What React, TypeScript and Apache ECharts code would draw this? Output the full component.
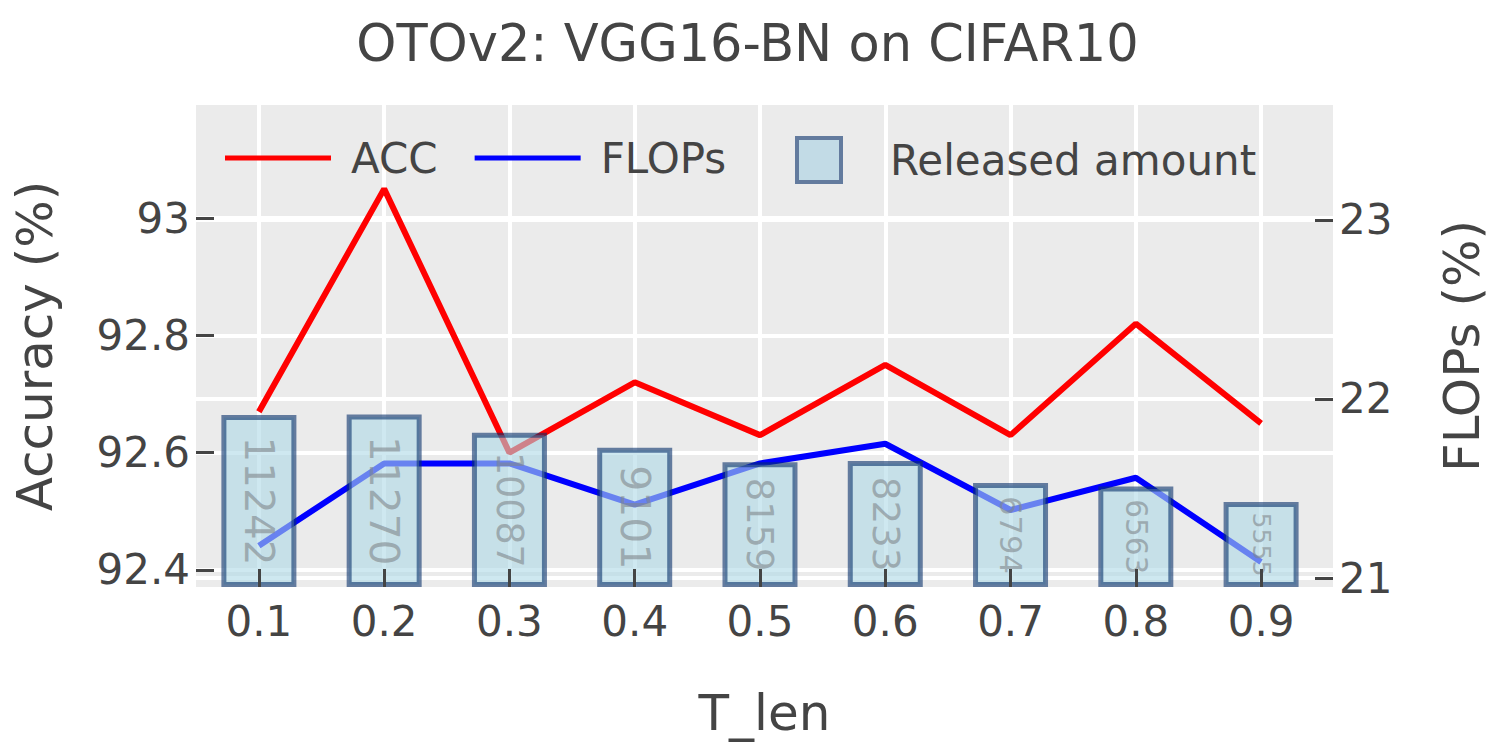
import React, { useEffect, useRef } from 'react';
import * as echarts from 'echarts';

const categories = ['0.1', '0.2', '0.3', '0.4', '0.5', '0.6', '0.7', '0.8', '0.9'];
const accValues = [92.67, 93.05, 92.6, 92.72, 92.63, 92.75, 92.63, 92.82, 92.65];
const flopsValues = [21.18, 21.64, 21.64, 21.41, 21.64, 21.75, 21.38, 21.56, 21.09];
const releasedValues = [11242, 11270, 10087, 9101, 8159, 8233, 6794, 6563, 5555];
const accTicks = [92.4, 92.6, 92.8, 93];
const flopsTicks = [21, 22, 23];

const FONT = '"DejaVu Sans", Verdana, sans-serif';
const TXT = '#444';

export default function App() {
  const ref = useRef<HTMLDivElement>(null);
  useEffect(() => {
    const chart = echarts.init(ref.current!, null, { renderer: 'svg' });
    const xs = categories.map(Number);
    const gridTop = 105;
    const gridH = 482;
    const barMax = 31500;
    const fit = (v: number) => {
      const px = (v / barMax) * gridH;
      const digits = String(v).length;
      return Math.min(41, (px * 0.75) / (digits * 0.636));
    };
    const tickStyle = { color: TXT, width: 3 };
    const split = { show: true, lineStyle: { color: '#ffffff', width: 4 } };
    const option: any = {
      animation: false,
      backgroundColor: '#ffffff',
      textStyle: { fontFamily: FONT },
      title: {
        text: 'OTOv2: VGG16-BN on CIFAR10',
        left: 'center',
        top: 8,
        textStyle: { fontSize: 51, fontWeight: 'normal', color: TXT, fontFamily: FONT, lineHeight: 60 },
      },
      legend: [
        {
          data: [
            { name: 'ACC', icon: 'rect' },
            { name: 'FLOPs', icon: 'rect' },
          ],
          left: 225,
          top: 134,
          padding: 0,
          itemWidth: 106,
          itemHeight: 5,
          itemGap: 37,
          textStyle: { fontSize: 42, color: TXT, fontFamily: FONT, lineHeight: 48, padding: [0, 0, 0, 15] },
        },
        {
          data: ['Released amount'],
          left: 795,
          top: 136,
          padding: 0,
          itemWidth: 44,
          itemHeight: 44,
          icon: 'rect',
          itemStyle: { color: '#c2dbe6', borderColor: '#637b9e', borderWidth: 4, opacity: 1 },
          textStyle: { fontSize: 42, color: TXT, fontFamily: FONT, lineHeight: 44, padding: [0, 0, 0, 44] },
        },
      ],
      grid: {
        left: 196,
        top: gridTop,
        width: 1138,
        height: gridH,
        show: true,
        backgroundColor: '#ebebeb',
        borderWidth: 0,
      },
      xAxis: [
        {
          type: 'value',
          position: 'bottom',
          min: 0.0498,
          max: 0.9574,
          axisLine: { show: false },
          axisTick: { show: false, customValues: xs },
          axisLabel: {
            customValues: xs,
            margin: 12,
            fontSize: 42,
            color: TXT,
            fontFamily: FONT,
            lineHeight: 45,
            formatter: (v: number) => String(v),
          },
          splitLine: split,
          name: 'T_len',
          nameLocation: 'middle',
          nameGap: 101,
          nameTextStyle: { fontSize: 50, color: TXT, fontFamily: FONT, lineHeight: 50 },
        },
        {
          type: 'value',
          position: 'bottom',
          min: 0.0498,
          max: 0.9574,
          z: 10,
          axisLine: { show: false },
          axisTick: { show: true, inside: true, length: 18, lineStyle: tickStyle, customValues: xs },
          axisLabel: { show: false, customValues: xs },
          splitLine: { show: false },
        },
      ],
      yAxis: [
        {
          type: 'value',
          position: 'left',
          min: 92.371,
          max: 93.193,
          axisLine: { show: false },
          axisTick: { show: true, inside: true, length: 18, lineStyle: tickStyle, customValues: accTicks },
          axisLabel: {
            customValues: accTicks,
            margin: 6,
            fontSize: 42,
            color: TXT,
            fontFamily: FONT,
            formatter: (v: number) => String(v),
          },
          splitLine: split,
          name: 'Accuracy (%)',
          nameLocation: 'middle',
          nameGap: 136,
          nameTextStyle: { fontSize: 50, color: TXT, fontFamily: FONT, lineHeight: 50 },
        },
        {
          type: 'value',
          position: 'right',
          min: 20.95,
          max: 23.642,
          axisLine: { show: false },
          axisTick: { show: true, inside: true, length: 18, lineStyle: tickStyle, customValues: flopsTicks },
          axisLabel: {
            customValues: flopsTicks,
            margin: 6,
            fontSize: 42,
            color: TXT,
            fontFamily: FONT,
            formatter: (v: number) => String(v),
          },
          splitLine: split,
          name: 'FLOPs (%)',
          nameLocation: 'middle',
          nameGap: 104,
          nameTextStyle: { fontSize: 50, color: TXT, fontFamily: FONT, lineHeight: 50 },
        },
        {
          type: 'value',
          position: 'left',
          show: false,
          min: 0,
          max: barMax,
          splitLine: { show: false },
        },
      ],
      series: [
        {
          name: 'ACC',
          type: 'line',
          xAxisIndex: 0,
          yAxisIndex: 0,
          data: xs.map((x, i) => [x, accValues[i]]),
          symbol: 'none',
          z: 2,
          lineStyle: { color: '#ff0000', width: 6 },
          itemStyle: { color: '#ff0000' },
        },
        {
          name: 'FLOPs',
          type: 'line',
          xAxisIndex: 0,
          yAxisIndex: 1,
          data: xs.map((x, i) => [x, flopsValues[i]]),
          symbol: 'none',
          z: 2,
          lineStyle: { color: '#0000ff', width: 6 },
          itemStyle: { color: '#0000ff' },
        },
        {
          name: 'Released amount',
          type: 'bar',
          xAxisIndex: 0,
          yAxisIndex: 2,
          barWidth: 75,
          z: 3,
          data: xs.map((x, i) => ({
            value: [x, releasedValues[i]],
            label: { fontSize: fit(releasedValues[i]) },
          })),
          itemStyle: { color: '#add8e6', borderColor: 'rgb(8,48,107)', borderWidth: 5, opacity: 0.6 },
          label: {
            show: true,
            position: 'inside',
            rotate: -90,
            align: 'center',
            verticalAlign: 'middle',
            color: '#7f868b',
            fontFamily: FONT,
            formatter: (p: any) => String(p.value[1]),
          },
        },
      ],
    };
    chart.setOption(option);
    return () => chart.dispose();
  }, []);
  return <div ref={ref} style={{ position: 'absolute', left: 0, top: 0, width: 1495, height: 749 }} />;
}
